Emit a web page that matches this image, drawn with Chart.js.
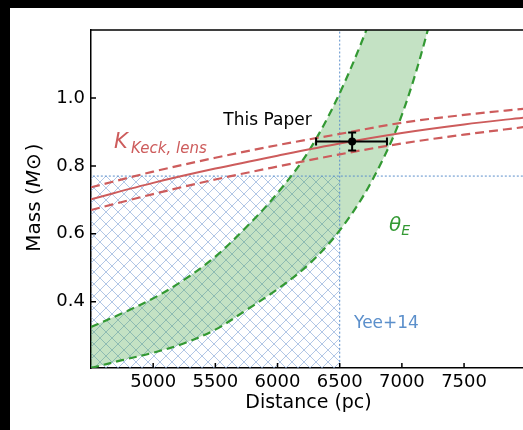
<!DOCTYPE html>
<html>
<head>
<meta charset="utf-8">
<script src="https://cdn.jsdelivr.net/npm/chart.js@4.4.1/dist/chart.umd.min.js"></script>
<style>
  html, body { margin: 0; padding: 0; background: #000; overflow: hidden; }
  #wrap { position: absolute; left: 10px; top: 8px; width: 513px; height: 422px; background: #fff; }
</style>
</head>
<body>
<div id="wrap"><canvas id="chart" width="513" height="422"></canvas></div>
<script>
// axes
const xTicks = [5000, 5500, 6000, 6500, 7000, 7500];
const yTicks = [0.4, 0.6, 0.8, 1.0];
const xRange = [4500, 7974];
const yRange = [0.205, 1.2];

// K-band (Keck) mass-distance relation, central and +/- 1 sigma
const kDist   = [4500, 5000, 5500, 6000, 6500, 7000, 7500, 8000];
const kMass   = [0.702, 0.750, 0.792, 0.830, 0.866, 0.897, 0.922, 0.943];
const kMassHi = [0.737, 0.783, 0.824, 0.861, 0.894, 0.927, 0.950, 0.969];
const kMassLo = [0.670, 0.717, 0.760, 0.798, 0.834, 0.866, 0.892, 0.915];

// theta_E band edges
const thetaDistHi = [4500, 4750, 5000, 5250, 5500, 5750, 6000, 6250, 6500, 6750, 6850];
const thetaMassHi = [0.326, 0.366, 0.410, 0.465, 0.533, 0.620, 0.720, 0.843, 1.014, 1.233, 1.340];
const thetaDistLo = [4500, 4750, 5000, 5250, 5500, 5750, 6000, 6250, 6500, 6750, 7000, 7250, 7350];
const thetaMassLo = [0.205, 0.228, 0.250, 0.278, 0.318, 0.376, 0.437, 0.510, 0.610, 0.750, 0.950, 1.258, 1.440];

// Yee+14 limits
const yeeDist = 6500;
const yeeMass = 0.77;

// this paper
const paperDist = 6600, paperDistLo = 6310, paperDistHi = 6880;
const paperMass = 0.872, paperMassLo = 0.845, paperMassHi = 0.898;

const RED = '#cd5c5c';
const GREEN = '#339933';
const BLUE = '#5b8fcb';
const FONT = '"DejaVu Sans", sans-serif';

const pts = (xs, ys) => xs.map((x, i) => ({ x: x, y: ys[i] }));

// cross hatch pattern
const tile = document.createElement('canvas');
tile.width = 12; tile.height = 12;
const tc = tile.getContext('2d');
tc.strokeStyle = 'rgba(130,165,215,0.62)';
tc.lineWidth = 1;
tc.beginPath();
tc.moveTo(-1, -1); tc.lineTo(13, 13);
tc.moveTo(13, -1); tc.lineTo(-1, 13);
tc.stroke();
const hatch = tc.createPattern(tile, 'repeat');

const line = (data, color, width, dash, extra) => Object.assign({
  data: data, showLine: true, borderColor: color, borderWidth: width,
  borderDash: dash, pointRadius: 0, fill: false, clip: 0
}, extra || {});

const bandPts = pts(thetaDistHi, thetaMassHi).concat(pts(thetaDistLo, thetaMassLo).reverse());
const hatchPts = pts([xRange[0] - 200, yeeDist, yeeDist, xRange[0] - 200], [0, 0, yeeMass, yeeMass]);

const decor = {
  id: 'decor',
  afterDatasetsDraw(chart) {
    const { ctx, scales: { x, y } } = chart;
    const cx = x.getPixelForValue(paperDist), cy = y.getPixelForValue(paperMass);
    const x0 = x.getPixelForValue(paperDistLo), x1 = x.getPixelForValue(paperDistHi);
    const y0 = y.getPixelForValue(paperMassLo), y1 = y.getPixelForValue(paperMassHi);
    ctx.save();
    ctx.strokeStyle = '#000';
    ctx.lineWidth = 2;
    ctx.beginPath();
    ctx.moveTo(x0, cy); ctx.lineTo(x1, cy);
    ctx.moveTo(x0, cy - 4); ctx.lineTo(x0, cy + 4);
    ctx.moveTo(x1, cy - 4); ctx.lineTo(x1, cy + 4);
    ctx.moveTo(cx, y0); ctx.lineTo(cx, y1);
    ctx.moveTo(cx - 4, y0); ctx.lineTo(cx + 4, y0);
    ctx.moveTo(cx - 4, y1); ctx.lineTo(cx + 4, y1);
    ctx.stroke();
    ctx.fillStyle = '#000';
    ctx.beginPath();
    ctx.arc(cx, cy, 4, 0, Math.PI * 2);
    ctx.fill();
    ctx.restore();
  },
  afterDraw(chart) {
    const { ctx, chartArea: a, scales: { x, y } } = chart;
    ctx.save();
    // top frame and inward ticks
    ctx.strokeStyle = '#000';
    ctx.lineWidth = 1.5;
    ctx.beginPath();
    ctx.moveTo(a.left, a.top); ctx.lineTo(a.right, a.top);
    xTicks.forEach(v => { const p = x.getPixelForValue(v); ctx.moveTo(p, a.bottom); ctx.lineTo(p, a.bottom - 5); });
    yTicks.forEach(v => { const p = y.getPixelForValue(v); ctx.moveTo(a.left, p); ctx.lineTo(a.left + 5, p); });
    ctx.stroke();

    ctx.textBaseline = 'alphabetic';
    // This Paper
    ctx.fillStyle = '#000';
    ctx.font = '17px ' + FONT;
    ctx.textAlign = 'center';
    ctx.fillText('This Paper', 257.5, 117);

    ctx.textAlign = 'left';
    // K_Keck,lens
    ctx.fillStyle = RED;
    ctx.font = 'italic 21px ' + FONT;
    ctx.fillText('K', 104, 140);
    ctx.font = 'italic 15px ' + FONT;
    ctx.fillText('Keck, lens', 121, 145);

    // theta_E
    ctx.fillStyle = GREEN;
    ctx.font = 'italic 20px ' + FONT;
    ctx.fillText('θ', 379, 223);
    const tw = ctx.measureText('θ').width;
    ctx.font = 'italic 14px ' + FONT;
    ctx.fillText('E', 379 + tw, 227);

    // Yee+14
    ctx.fillStyle = BLUE;
    ctx.font = '17px ' + FONT;
    ctx.fillText('Yee+14', 344, 320);

    // axis titles
    ctx.fillStyle = '#000';
    ctx.font = '19px ' + FONT;
    ctx.textAlign = 'center';
    ctx.fillText('Distance (pc)', 298.5, 400);

    ctx.translate(30, 189.5);
    ctx.rotate(-Math.PI / 2);
    const parts = [['Mass (', ''], ['M', 'italic '], ['⊙', ''], [')', '']];
    let total = 0;
    parts.forEach(p => { ctx.font = p[1] + '20px ' + FONT; total += ctx.measureText(p[0]).width + (p[0] === '⊙' ? 2 : 0); });
    let px = -total / 2;
    ctx.textAlign = 'left';
    parts.forEach(p => {
      ctx.font = p[1] + '20px ' + FONT;
      ctx.fillText(p[0], px, 0);
      px += ctx.measureText(p[0]).width + (p[0] === '⊙' ? 2 : 0);
    });
    ctx.restore();
  }
};

new Chart(document.getElementById('chart'), {
  type: 'scatter',
  data: {
    datasets: [
      line(pts(kDist, kMass), RED, 2, []),
      line(pts(kDist, kMassHi), RED, 2.2, [9, 5]),
      line(pts(kDist, kMassLo), RED, 2.2, [9, 5]),
      line(pts(thetaDistHi, thetaMassHi), GREEN, 2.2, [8, 5], { tension: 0.35 }),
      line(pts(thetaDistLo, thetaMassLo), GREEN, 2.2, [8, 5], { tension: 0.35 }),
      line(pts([yeeDist, yeeDist], [0, 2]), BLUE, 1, [2, 2]),
      line(pts([xRange[0] - 500, xRange[1] + 500], [yeeMass, yeeMass]), BLUE, 1, [2, 2]),
      line(bandPts, 'rgba(0,0,0,0)', 0, [], { fill: 'shape', backgroundColor: 'rgba(60,160,60,0.3)', tension: 0.35 }),
      line(hatchPts, 'rgba(0,0,0,0)', 0, [], { fill: 'shape', backgroundColor: hatch })
    ].map(d => Object.assign(d, { cubicInterpolationMode: d.tension ? 'default' : 'monotone' }))
  },
  options: {
    responsive: false,
    animation: false,
    layout: { padding: { top: 22, right: 0, left: 0, bottom: 0 } },
    plugins: { legend: { display: false }, tooltip: { enabled: false } },
    scales: {
      x: {
        type: 'linear', min: xRange[0], max: xRange[1],
        afterBuildTicks: s => { s.ticks = xTicks.map(v => ({ value: v })); },
        afterFit: s => { s.height = 62; },
        grid: { display: false, drawTicks: false },
        border: { display: true, color: '#000', width: 1.5 },
        ticks: { color: '#000', padding: 4, font: { family: FONT, size: 18 }, maxRotation: 0, callback: v => String(v) }
      },
      y: {
        type: 'linear', min: yRange[0], max: yRange[1],
        afterBuildTicks: s => { s.ticks = yTicks.map(v => ({ value: v })); },
        afterFit: s => { s.width = 81; },
        grid: { display: false, drawTicks: false },
        border: { display: true, color: '#000', width: 1.5 },
        ticks: { color: '#000', padding: 6, font: { family: FONT, size: 18 }, callback: v => v.toFixed(1) }
      }
    }
  },
  plugins: [decor]
});
</script>
</body>
</html>
